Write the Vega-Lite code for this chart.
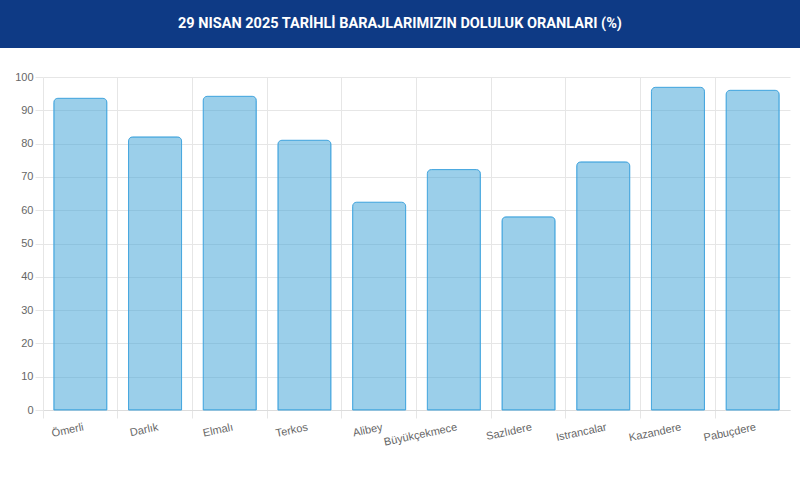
{
  "$schema": "https://vega.github.io/schema/vega-lite/v6.json",
  "padding": 0,
  "background": "white",
  "spacing": 29,
  "bounds": "flush",
  "config": {"view": {"stroke": null}},
  "vconcat": [
    {
      "width": 800,
      "height": 48,
      "view": {"fill": "#0e3a85", "stroke": null},
      "data": {"values": [{"baslik": "29 NISAN 2025 TARİHLİ BARAJLARIMIZIN DOLULUK ORANLARI (%)"}]},
      "mark": {"type": "text", "color": "#ffffff", "font": "Roboto", "fontSize": 14.5, "fontWeight": "bold"},
      "encoding": {"text": {"field": "baslik"}}
    },
    {
      "width": 790,
      "height": 333,
      "data": {
        "values": [
          {"baraj": "Ömerli", "oran": 93.6},
          {"baraj": "Darlık", "oran": 82.0},
          {"baraj": "Elmalı", "oran": 94.2},
          {"baraj": "Terkos", "oran": 81.0},
          {"baraj": "Alibey", "oran": 62.4},
          {"baraj": "Büyükçekmece", "oran": 72.2},
          {"baraj": "Sazlıdere", "oran": 58.0},
          {"baraj": "Istrancalar", "oran": 74.5},
          {"baraj": "Kazandere", "oran": 96.9},
          {"baraj": "Pabuçdere", "oran": 96.0}
        ]
      },
      "mark": {
        "type": "bar",
        "width": {"band": 0.71},
        "fill": "#37a0d5",
        "fillOpacity": 0.5,
        "stroke": "#45a6de",
        "strokeWidth": 1,
        "cornerRadiusTopLeft": 4,
        "cornerRadiusTopRight": 4
      },
      "encoding": {
        "x": {
          "field": "baraj",
          "type": "nominal",
          "sort": null,
          "scale": {"range": [43, 790], "paddingInner": 0, "paddingOuter": 0},
          "axis": {
            "title": null,
            "bandPosition": 0,
            "labelOffset": 2,
            "grid": true,
            "gridColor": "#e6e6e6",
            "ticks": true,
            "tickColor": "#e6e6e6",
            "tickSize": 8,
            "domain": true,
            "domainColor": "#dcdcdc",
            "labelAngle": -12,
            "labelAlign": "right",
            "labelBaseline": "top",
            "labelColor": "#666666",
            "labelFont": "Liberation Sans",
            "labelFontSize": 11,
            "labelPadding": 3
          }
        },
        "y": {
          "field": "oran",
          "type": "quantitative",
          "scale": {"domain": [0, 100], "nice": false},
          "axis": {
            "title": null,
            "offset": -43,
            "values": [0, 10, 20, 30, 40, 50, 60, 70, 80, 90, 100],
            "domain": false,
            "grid": true,
            "gridColor": "#e6e6e6",
            "tickColor": "#e6e6e6",
            "tickSize": 8,
            "labelPadding": 2,
            "labelColor": "#666666",
            "labelFont": "Liberation Sans",
            "labelFontSize": 11
          }
        }
      }
    }
  ]
}
